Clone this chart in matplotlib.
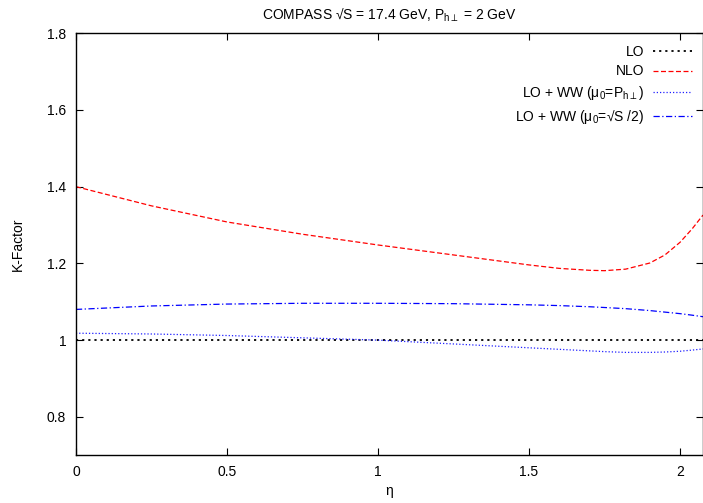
import numpy as np
import matplotlib
matplotlib.use('Agg')
import matplotlib.pyplot as plt

plt.rcParams['font.family'] = ['Liberation Sans', 'DejaVu Sans']
plt.rcParams['mathtext.fontset'] = 'custom'
plt.rcParams['mathtext.rm'] = 'Liberation Sans'
plt.rcParams['mathtext.it'] = 'Liberation Sans'
plt.rcParams['mathtext.default'] = 'regular'

# K-factor curves
eta = [0.0, 0.25, 0.5, 0.75, 1.0, 1.25, 1.5, 1.6, 1.7, 1.75, 1.82, 1.9, 1.95, 2.0, 2.04, 2.076]
k_lo = [1.0] * len(eta)
k_nlo = [1.40, 1.35, 1.308, 1.276, 1.248, 1.222, 1.196, 1.187, 1.182, 1.181, 1.185, 1.201, 1.222, 1.255, 1.29, 1.326]
k_ww_ph = [1.018, 1.016, 1.012, 1.006, 1.0, 0.99, 0.98, 0.976, 0.972, 0.970, 0.968, 0.968, 0.969, 0.971, 0.974, 0.977]
k_ww_s = [1.080, 1.089, 1.094, 1.096, 1.096, 1.095, 1.092, 1.090, 1.087, 1.085, 1.082, 1.077, 1.073, 1.069, 1.065, 1.061]

fig = plt.figure(figsize=(7.03, 5.03), dpi=100)
ax = fig.add_axes([0.108, 0.095, 0.892, 0.839])

ax.plot(eta, k_lo, color='black', linestyle=(0, (1.2, 2.2)), linewidth=1.3, label='LO')
ax.plot(eta, k_nlo, color='#ff0000', linestyle=(0, (4, 2)), linewidth=0.9, label='NLO')
ax.plot(eta, k_ww_ph, color='#2020ff', linestyle=(0, (1, 1.6)), linewidth=0.9,
        label=r'LO + WW ($\mu_0$=P$_{h\perp}$)')
ax.plot(eta, k_ww_s, color='#0000ff', linestyle=(0, (5, 2, 1, 2)), linewidth=0.9,
        label=r'LO + WW ($\mu_0$=√S /2)')

ax.set_xlim(0, 2.076)
ax.set_ylim(0.7, 1.8)
ax.set_xticks([0, 0.5, 1, 1.5, 2])
ax.set_xticklabels(['0', '0.5', '1', '1.5', '2'])
ax.set_yticks([0.8, 1.0, 1.2, 1.4, 1.6, 1.8])
ax.set_yticklabels(['0.8', '1', '1.2', '1.4', '1.6', '1.8'])
ax.tick_params(direction='in', top=True, right=True, length=5, width=0.8, labelsize=10, pad=7)
for s in ax.spines.values():
    s.set_linewidth(1.0)

ax.set_xlabel('η', fontsize=10, labelpad=4)
ax.set_ylabel('K-Factor', fontsize=10)
ax.yaxis.set_label_coords(-0.081, 0.5)
ax.set_title(r'COMPASS √S = 17.4 GeV, P$_{h\perp}$ = 2 GeV', fontsize=10, pad=10)

ax.legend(loc='upper right', frameon=False, markerfirst=False, fontsize=10,
          handlelength=2.8, handletextpad=0.65, labelspacing=0.42,
          borderaxespad=0, bbox_to_anchor=(0.991, 0.986))

fig.savefig('out.png', dpi=100)
